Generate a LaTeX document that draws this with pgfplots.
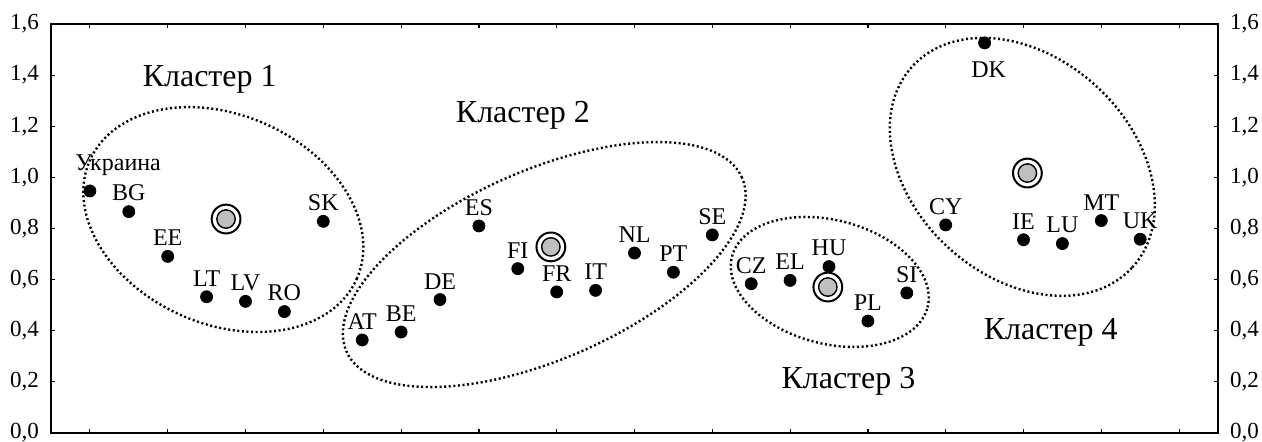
\documentclass[border=0pt]{standalone}
\usepackage{fontspec}
\setmainfont{Liberation Serif}
\usepackage{pgfplots}
\pgfplotsset{compat=1.18}
\begin{document}
\begin{tikzpicture}
\pgfplotsset{
  base/.style={
    width=583.5pt, height=204.5pt, scale only axis,
    xmin=0, xmax=30, ymin=0, ymax=1.6,
    xtick={1,3,...,29}, xticklabels={},
    ytick={0,0.2,...,1.6},
    tick align=inside, major tick length=2.2pt,
    axis line style={line width=0.8pt},
    tick style={line width=0.6pt, black},
    /pgf/number format/assume math mode=true,
    /pgf/number format/use comma,
    /pgf/number format/fixed,
    /pgf/number format/fixed zerofill,
    /pgf/number format/precision=1,
    ticklabel style={font=\fontsize{11.5}{12}\selectfont},
  }
}
\begin{axis}[base, yticklabel pos=left,
  yticklabel style={xshift=-2.5pt},
  every node near coord/.append style={font=\fontsize{12}{13}\selectfont, yshift=3.5pt, inner sep=1.5pt},
  clip=false]
% countries, labels above
\addplot[only marks, mark=*, mark size=3pt, black,
  nodes near coords, point meta=explicit symbolic]
  table[meta=l] {
x y l
2 0.866 BG
3 0.691 EE
4 0.533 LT
5 0.515 LV
6 0.475 RO
7 0.828 SK
8 0.364 AT
9 0.395 BE
10 0.522 DE
11 0.810 ES
12 0.643 FI
13 0.552 FR
14 0.558 IT
15 0.704 NL
16 0.629 PT
17 0.775 SE
18 0.584 CZ
19 0.597 EL
20 0.651 HU
21 0.438 PL
22 0.548 SI
23 0.814 CY
25 0.756 IE
26 0.741 LU
27 0.831 MT
28 0.758 UK
};
\addplot[only marks, mark=*, mark size=3pt, black,
  nodes near coords, point meta=explicit symbolic,
  every node near coord/.append style={anchor=south west, xshift=-9pt, yshift=2.5pt}]
  table[meta=l] {
x y l
1 0.947 Украина
};
\addplot[only marks, mark=*, mark size=3pt, black,
  nodes near coords, point meta=explicit symbolic,
  every node near coord/.append style={anchor=north, yshift=-11pt, xshift=2pt}]
  table[meta=l] {
x y l
24 1.526 DK
};
% centroids
\addplot[only marks, mark=*, mark size=7.2pt, mark options={fill=white, draw=black, line width=1pt}]
  coordinates {(4.5,0.837) (12.85,0.728) (19.97,0.571) (25.1,1.017)};
\addplot[only marks, mark=*, mark size=4.6pt, mark options={fill=black!25, draw=black, line width=0.7pt}]
  coordinates {(4.5,0.837) (12.85,0.728) (19.97,0.571) (25.1,1.017)};
% ellipse centres
\coordinate (e1) at (axis cs:4.43,0.835);
\coordinate (e2) at (axis cs:12.68,0.659);
\coordinate (e3) at (axis cs:20.02,0.591);
\coordinate (e4) at (axis cs:24.97,1.041);
% cluster labels
\node[anchor=base, font=\fontsize{16}{18}\selectfont] at (axis cs:4.08,1.354) {Кластер 1};
\node[anchor=base, font=\fontsize{16}{18}\selectfont] at (axis cs:12.13,1.213) {Кластер 2};
\node[anchor=base, font=\fontsize{16}{18}\selectfont] at (axis cs:20.5,0.176) {Кластер 3};
\node[anchor=base, font=\fontsize{16}{18}\selectfont] at (axis cs:25.7,0.364) {Кластер 4};
\end{axis}
\begin{axis}[base, axis y line*=right, axis x line=none,
  yticklabel pos=right, yticklabel style={xshift=2.5pt}]
\end{axis}
\tikzset{ell/.style={line width=1.2pt, dash pattern=on 1pt off 1.3pt}}
\draw[ell, rotate around={-24:(e1)}] (e1) ellipse [x radius=73pt, y radius=52.25pt];
\draw[ell, rotate around={23.7:(e2)}] (e2) ellipse [x radius=108pt, y radius=47.2pt];
\draw[ell, rotate around={-14.6:(e3)}] (e3) ellipse [x radius=50.5pt, y radius=30.9pt];
\draw[ell, rotate around={-42.4:(e4)}] (e4) ellipse [x radius=74.5pt, y radius=54.75pt];
\pgfresetboundingbox
\path[use as bounding box] ([xshift=-25.5pt, yshift=-4pt]current axis.south west) rectangle ([xshift=22pt, yshift=12pt]current axis.north east);
\end{tikzpicture}
\end{document}
